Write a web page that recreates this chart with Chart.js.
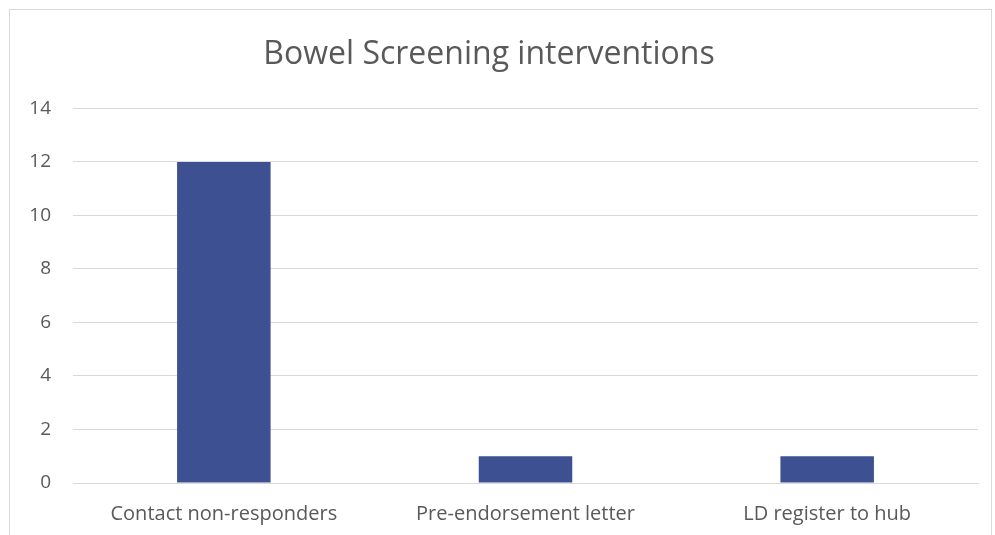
<!DOCTYPE html>
<html>
<head>
<meta charset="utf-8">
<script src="https://cdn.jsdelivr.net/npm/chart.js@4/dist/chart.umd.min.js"></script>
<style>
  html, body { margin: 0; padding: 0; background: #fff; overflow: hidden; }
  #wrap { position: absolute; left: 0; top: 0; width: 995px; height: 535px; }
  #frame { position: absolute; left: 9px; top: 9px; width: 983px; height: 540px; border: 1px solid #d9d9d9; box-sizing: border-box; pointer-events: none; }
</style>
</head>
<body>
<div id="wrap"><canvas id="c" width="995" height="535"></canvas></div>
<div id="frame"></div>
<script>
const categories = ["Contact non-responders", "Pre-endorsement letter", "LD register to hub"];
const values = [12, 1, 1];
const yTicks = [0, 2, 4, 6, 8, 10, 12, 14];
const titleText = "Bowel Screening interventions";

const FONT = "'Open Sans', Lato, 'Liberation Sans', sans-serif";

new Chart(document.getElementById('c'), {
  type: 'bar',
  data: {
    labels: categories,
    datasets: [{
      data: values,
      backgroundColor: '#3d5192',
      borderWidth: 0,
      categoryPercentage: 1.0,
      barPercentage: 0.31
    }]
  },
  options: {
    responsive: false,
    animation: false,
    layout: { padding: { left: 0, right: 17, top: 0, bottom: 0 } },
    plugins: {
      legend: { display: false },
      tooltip: { enabled: false },
      title: {
        display: true,
        text: titleText,
        color: '#595959',
        font: { family: FONT, size: 32, weight: 'normal', lineHeight: 1.2 },
        padding: { top: 36, bottom: 34 }
      }
    },
    scales: {
      x: {
        grid: { display: false, drawTicks: false },
        border: { display: true, color: '#d9d9d9', width: 1 },
        ticks: {
          color: '#595959',
          font: { family: FONT, size: 20 },
          padding: 19,
          maxRotation: 0
        },
        afterFit: (s) => { s.height = 52; }
      },
      y: {
        min: 0, max: 14,
        afterBuildTicks: (s) => { s.ticks = yTicks.map(v => ({ value: v })); },
        grid: { color: '#d9d9d9', lineWidth: 1, drawTicks: false },
        border: { display: false },
        ticks: {
          color: '#595959',
          font: { family: FONT, size: 19 },
          padding: 22
        },
        afterFit: (s) => { s.width = 73; }
      }
    }
  }
});
</script>
</body>
</html>
